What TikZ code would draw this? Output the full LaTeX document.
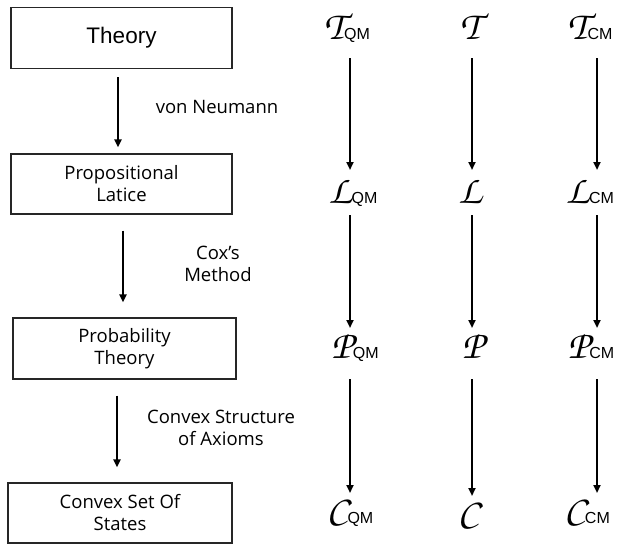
\documentclass[tikz,border=0pt]{standalone}
\usepackage[T1,TU]{fontenc}
\usepackage{fontspec}
\setmainfont{Open Sans}
\newfontfamily\helv{Liberation Sans}
\usetikzlibrary{arrows.meta}
\tikzset{
  box/.style={draw=black!85, line width=1.2pt, inner sep=0pt, align=center, font=\fontsize{18.5}{22}\selectfont},
  lbl/.style={align=center, font=\fontsize{18.5}{22}\selectfont},
  sym/.style={inner sep=0pt, anchor=base},
  arr/.style={line width=2pt, -{Triangle[length=8pt,width=7pt]}},
}
\newcommand{\Sy}[2]{{\fontencoding{T1}\fontfamily{pzc}\fontseries{mb}\fontshape{it}\fontsize{40}{40}\selectfont #1}{\helv\fontsize{16}{16}\selectfont #2}}
\begin{document}
\begin{tikzpicture}[x=1pt,y=-1pt]
\useasboundingbox (0,0) rectangle (618,544);
% left boxes
\node[box, minimum width=221pt, minimum height=61pt, font=\helv\fontsize{22.5}{24}\selectfont] (b1) at (121.5,38) {Theory};
\node[box, minimum width=221pt, minimum height=60pt] (b2) at (121.5,184) {Propositional\\Latice};
\node[box, minimum width=223pt, minimum height=61pt] (b3) at (124.5,348.5) {Probability\\Theory};
\node[box, minimum width=224pt, minimum height=60pt] (b4) at (120,513) {Convex Set Of\\States};
% left arrow columns
\coordinate (a1) at (118,0);
\coordinate (a2) at (123,0);
\coordinate (a3) at (117,0);
\draw[arr, shorten <=8pt, shorten >=6pt] (b1.south -| a1) -- (b2.north -| a1);
\draw[arr, shorten <=16pt, shorten >=15pt] (b2.south -| a2) -- (b3.north -| a2);
\draw[arr, shorten <=16pt, shorten >=15pt] (b3.south -| a3) -- (b4.north -| a3);
% labels
\node[lbl] (l1) at (217,107) {von Neumann};
\node[lbl] (l2) at (218,264) {Cox’s\\Method};
\node[lbl] (l3) at (221,428) {Convex Structure\\of Axioms};
% symbols
\node[sym] (T1) at (347,39) {\Sy{T}{QM}};
\node[sym] (T2) at (470,39) {\Sy{T}{}};
\node[sym] (T3) at (590,39) {\Sy{T}{CM}};
\node[sym] (L1) at (353,203) {\Sy{L}{QM}};
\node[sym] (L2) at (470,203) {\Sy{L}{}};
\node[sym] (L3) at (590,203) {\Sy{L}{CM}};
\node[sym] (P1) at (355,358) {\Sy{P}{QM}};
\node[sym] (P2) at (473,358) {\Sy{P}{}};
\node[sym] (P3) at (591,358) {\Sy{P}{CM}};
\node[sym] (C1) at (350,523) {\Sy{C}{QM}};
\node[sym] (C2) at (468,526) {\Sy{C}{}};
\node[sym] (C3) at (587,523) {\Sy{C}{CM}};
% column coordinates
\coordinate (c1) at (350,0);
\coordinate (c2) at (472,0);
\coordinate (c3) at (597,0);
\foreach \c/\t/\l/\p/\s in {c1/T1/L1/P1/C1, c2/T2/L2/P2/C2, c3/T3/L3/P3/C3}{
  \draw[arr, shorten <=19pt, shorten >=33pt] (\t.base -| \c) -- (\l.base -| \c);
  \draw[arr, shorten <=12pt, shorten >=30pt] (\l.base -| \c) -- (\p.base -| \c);
  \draw[arr, shorten <=21pt, shorten >=30pt] (\p.base -| \c) -- (\s.base -| \c);
}
\end{tikzpicture}
\end{document}
